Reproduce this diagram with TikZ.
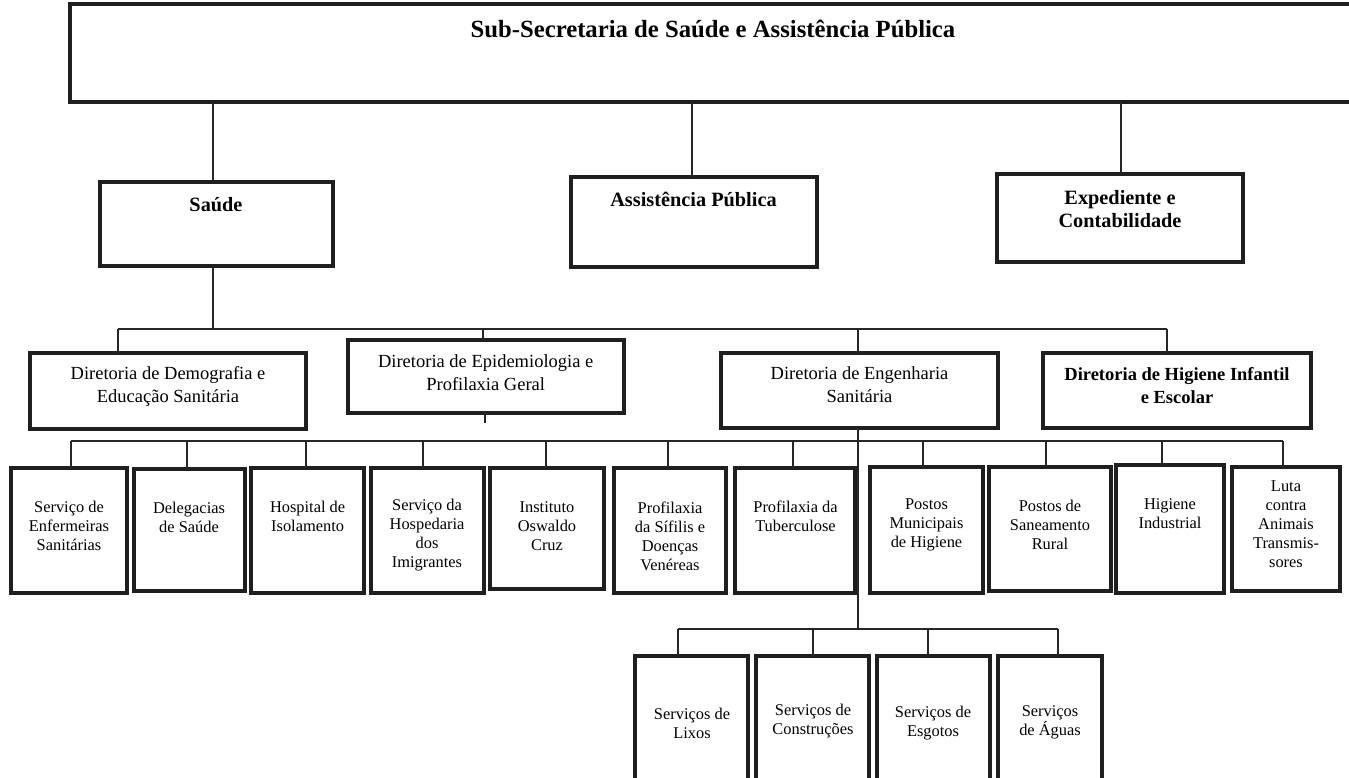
\documentclass[tikz,border=0pt]{standalone}
\usepackage{fontspec}
\setmainfont{Liberation Serif}
\usetikzlibrary{calc}
\begin{document}
\begin{tikzpicture}[x=1pt,y=-1pt,
  box/.style={draw=black!88, line width=3.2pt, inner sep=0pt, outer sep=0pt},
  conn/.style={draw=black!85, line width=1.3pt},
  ttl/.style={font=\fontsize{24.7}{28}\selectfont\bfseries, inner sep=0pt},
  lvl/.style={font=\fontsize{20.3}{23.8}\selectfont\bfseries, align=center, inner sep=0pt},
  dir/.style={font=\fontsize{18.5}{22.8}\selectfont, align=center, inner sep=0pt},
  dirb/.style={font=\fontsize{18.5}{22.8}\selectfont\bfseries, align=center, inner sep=0pt},
  leaf/.style={font=\fontsize{16.4}{19}\selectfont, align=center, inner sep=0pt},
]
\useasboundingbox (0,0) rectangle (1349,777);
\fill[white] (0,0) rectangle (1349,777);

% top
\node[box, minimum width=1290pt, minimum height=98pt] (top) at (715,53) {};
\node[ttl] (topt) at (713,29) {Sub-Secretaria de Saúde e Assistência Pública};

% level 2
\node[box, minimum width=233pt, minimum height=84pt] (saude) at (216.5,224) {};
\node[lvl] (saudet) at (216,205) {Saúde};
\node[box, minimum width=246pt, minimum height=90pt] (assist) at (694,222) {};
\node[lvl] (assistt) at (693.5,199) {Assistência Pública};
\node[box, minimum width=246pt, minimum height=88pt] (exped) at (1120,218) {};
\node[lvl] (expedt) at (1120,209) {Expediente e\\Contabilidade};

% directorates
\node[box, minimum width=276pt, minimum height=76pt] (demo) at (168,391) {};
\node[dir] (demot) at (168,386.5) {Diretoria de Demografia e\\Educação Sanitária};
\node[box, minimum width=276pt, minimum height=73pt] (epid) at (486,376.5) {};
\node[dir] (epidt) at (485.7,372.5) {Diretoria de Epidemiologia e\\Profilaxia Geral};
\node[box, minimum width=277pt, minimum height=75pt] (eng) at (859.5,390.5) {};
\node[dir] (engt) at (859.5,384.5) {Diretoria de Engenharia\\Sanitária};
\node[box, minimum width=268pt, minimum height=75pt] (inf) at (1177,390.5) {};
\node[dirb] (inft) at (1177,385.5) {Diretoria de Higiene Infantil\\e Escolar};

% leaves
\node[box, minimum width=116pt, minimum height=125pt] (l1) at (69,530.5) {};
\node[leaf] (l1t) at (69,526) {Serviço de\\Enfermeiras\\Sanitárias};
\node[box, minimum width=111pt, minimum height=122pt] (l2) at (189.5,530) {};
\node[leaf] (l2t) at (189,517) {Delegacias\\de Saúde};
\node[box, minimum width=113pt, minimum height=125pt] (l3) at (307.5,530.5) {};
\node[leaf] (l3t) at (307.6,516) {Hospital de\\Isolamento};
\node[box, minimum width=113pt, minimum height=125pt] (l4) at (427.5,530.5) {};
\node[leaf] (l4t) at (427,535.5) {Serviço da\\Hospedaria\\dos\\Imigrantes};
\node[box, minimum width=114pt, minimum height=121pt] (l5) at (547,528.5) {};
\node[leaf] (l5t) at (547,526) {Instituto\\Oswaldo\\Cruz};
\node[box, minimum width=112pt, minimum height=125pt] (l6) at (670,530.5) {};
\node[leaf] (l6t) at (670,536) {Profilaxia\\da Sífilis e\\Doenças\\Venéreas};
\node[box, minimum width=120pt, minimum height=125pt] (l7) at (795,530.5) {};
\node[leaf] (l7t) at (795.5,516.5) {Profilaxia da\\Tuberculose};
\node[box, minimum width=113pt, minimum height=126pt] (l8) at (926.5,530) {};
\node[leaf] (l8t) at (926.5,525) {Postos\\Municipais\\de Higiene};
\node[box, minimum width=122pt, minimum height=124pt] (l9) at (1050,529) {};
\node[leaf] (l9t) at (1050,525) {Postos de\\Saneamento\\Rural};
\node[box, minimum width=108pt, minimum height=128pt] (l10) at (1170,529) {};
\node[leaf] (l10t) at (1170,513.5) {Higiene\\Industrial};
\node[box, minimum width=108pt, minimum height=124pt] (l11) at (1286,529) {};
\node[leaf] (l11t) at (1286,524.5) {Luta\\contra\\Animais\\Transmis-\\sores};

% lower services
\node[box, minimum width=113pt, minimum height=150pt] (s1) at (691.5,731) {};
\node[leaf] (s1t) at (692,723) {Serviços de\\Lixos};
\node[box, minimum width=113pt, minimum height=150pt] (s2) at (812.5,731) {};
\node[leaf] (s2t) at (813,721) {Serviços de\\Construções};
\node[box, minimum width=113pt, minimum height=150pt] (s3) at (933.5,731) {};
\node[leaf] (s3t) at (933,723) {Serviços de\\Esgotos};
\node[box, minimum width=104pt, minimum height=150pt] (s4) at (1050,731) {};
\node[leaf] (s4t) at (1050,722.5) {Serviços\\de Águas};

% connectors: top to level 2
\draw[conn] ([xshift=-3.5pt]saude.north) -- ([xshift=-3.5pt]saude.north |- top.south);
\draw[conn] ([xshift=-2pt]assist.north) -- ([xshift=-2pt]assist.north |- top.south);
\draw[conn] ([xshift=1pt]exped.north) -- ([xshift=1pt]exped.north |- top.south);

% bus 1
\coordinate (b1L) at (118,329);
\coordinate (b1R) at (1167,329);
\draw[conn] (b1L) -- (b1R);
\draw[conn] ([xshift=-3.5pt]saude.south) -- ([xshift=-3.5pt]saude.south |- b1L);
\draw[conn] ([xshift=-50pt]demo.north) -- ([xshift=-50pt]demo.north |- b1L);
\draw[conn] ([xshift=-3pt]epid.north) -- ([xshift=-3pt]epid.north |- b1L);
\draw[conn] ([xshift=-1.5pt]eng.north) -- ([xshift=-1.5pt]eng.north |- b1L);
\draw[conn] ([xshift=-10pt]inf.north) -- ([xshift=-10pt]inf.north |- b1L);

% epidemiologia stub
\coordinate (stub) at (485,423);
\draw[conn] (epid.south -| stub) -- (stub);

% bus 2 (leaves)
\coordinate (b2L) at (71,441);
\coordinate (b2R) at (1283,441);
\draw[conn] (b2L) -- (b2R);
\draw[conn] ([xshift=2pt]l1.north) -- ([xshift=2pt]l1.north |- b2L);
\draw[conn] ([xshift=-2.5pt]l2.north) -- ([xshift=-2.5pt]l2.north |- b2L);
\draw[conn] ([xshift=-1.5pt]l3.north) -- ([xshift=-1.5pt]l3.north |- b2L);
\draw[conn] ([xshift=-4.5pt]l4.north) -- ([xshift=-4.5pt]l4.north |- b2L);
\draw[conn] ([xshift=-1pt]l5.north) -- ([xshift=-1pt]l5.north |- b2L);
\draw[conn] ([xshift=-2pt]l6.north) -- ([xshift=-2pt]l6.north |- b2L);
\draw[conn] ([xshift=-2pt]l7.north) -- ([xshift=-2pt]l7.north |- b2L);
\draw[conn] ([xshift=-3.5pt]l8.north) -- ([xshift=-3.5pt]l8.north |- b2L);
\draw[conn] ([xshift=-4pt]l9.north) -- ([xshift=-4pt]l9.north |- b2L);
\draw[conn] ([xshift=-8pt]l10.north) -- ([xshift=-8pt]l10.north |- b2L);
\draw[conn] ([xshift=-3pt]l11.north) -- ([xshift=-3pt]l11.north |- b2L);

% bus 3 (engenharia services)
\coordinate (b3L) at (678,629);
\coordinate (b3R) at (1058,629);
\draw[conn] ([xshift=-1.5pt]eng.south) -- ([xshift=-1.5pt]eng.south |- b3L);
\draw[conn] (b3L) -- (b3R);
\draw[conn] ([xshift=-13.5pt]s1.north) -- ([xshift=-13.5pt]s1.north |- b3L);
\draw[conn] ([xshift=0.5pt]s2.north) -- ([xshift=0.5pt]s2.north |- b3L);
\draw[conn] ([xshift=-5.5pt]s3.north) -- ([xshift=-5.5pt]s3.north |- b3L);
\draw[conn] ([xshift=8pt]s4.north) -- ([xshift=8pt]s4.north |- b3L);
\end{tikzpicture}
\end{document}
